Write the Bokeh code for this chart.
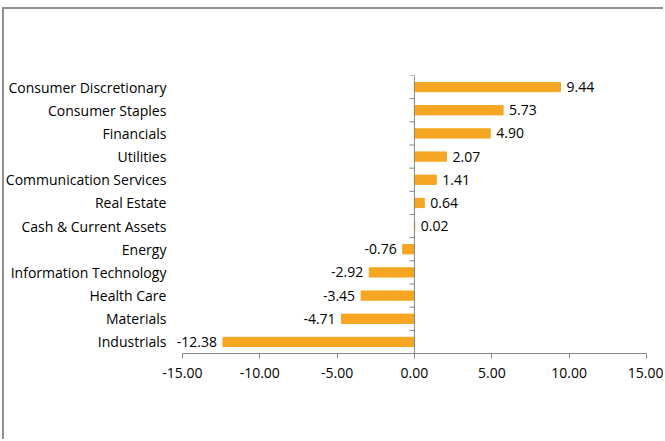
from bokeh.plotting import figure
from bokeh.models import ColumnDataSource, FixedTicker, LabelSet, Range1d
from bokeh.core.properties import value
from bokeh.embed import file_html
from bokeh.resources import INLINE
from math import pi

sectors = ["Consumer Discretionary", "Consumer Staples", "Financials", "Utilities",
           "Communication Services", "Real Estate", "Cash & Current Assets", "Energy",
           "Information Technology", "Health Care", "Materials", "Industrials"]
values = [9.44, 5.73, 4.90, 2.07, 1.41, 0.64, 0.02, -0.76, -2.92, -3.45, -4.71, -12.38]
x_ticks = [-15, -10, -5, 0, 5, 10, 15]

n = len(sectors)
ypos = [n - 1 - i for i in range(n)]
labels = ["%.2f" % v for v in values]
pos_idx = [i for i, v in enumerate(values) if v >= 0]
neg_idx = [i for i, v in enumerate(values) if v < 0]

src = ColumnDataSource(dict(y=ypos, v=values, lab=labels))
src_pos = ColumnDataSource(dict(y=[ypos[i] for i in pos_idx], v=[values[i] for i in pos_idx],
                                lab=[labels[i] for i in pos_idx]))
src_neg = ColumnDataSource(dict(y=[ypos[i] for i in neg_idx], v=[values[i] for i in neg_idx],
                                lab=[labels[i] for i in neg_idx]))
src_cat = ColumnDataSource(dict(y=ypos, name=sectors, x=[x_ticks[0]] * n))

FONT = "Open Sans"
TXT = "#000000"
AX = "#868686"
FS = "14px"

# canvas starts at x=4, y=9 (after margin + border); the frame extends left
# over the category-label area so that labels are not clipped
p = figure(width=661, height=432, output_backend="svg", toolbar_location=None,
           x_range=Range1d(-26.5, 15), y_range=Range1d(-0.5, n - 0.5),
           min_border_left=0, min_border_right=19, min_border_top=66, min_border_bottom=88)
p.outline_line_color = None
p.xgrid.visible = False
p.ygrid.visible = False
p.yaxis.visible = False
p.styles = {"margin-left": "2px", "margin-top": "7px",
            "border-left": "2px solid #8f8f8f", "border-top": "2px solid #8f8f8f"}

p.hbar(y="y", left=0, right="v", height=0.4, source=src, color="#F6A623")

# center axis line at 0 with ticks at category boundaries
p.segment(x0=0, y0=-0.5, x1=0, y1=n - 0.5, line_color=AX, line_width=1)
bounds = [b - 0.5 for b in range(n + 1)]
p.ray(x=[0] * len(bounds), y=bounds, length=5, length_units="screen", angle=pi,
      line_color=AX, line_width=1)

p.add_layout(LabelSet(x="v", y="y", text="lab", source=src_pos, x_offset=6,
                      text_align="left", text_baseline="middle", text_font=value(FONT),
                      text_font_size=value(FS), text_color=TXT))
p.add_layout(LabelSet(x="v", y="y", text="lab", source=src_neg, x_offset=-6,
                      text_align="right", text_baseline="middle", text_font=value(FONT),
                      text_font_size=value(FS), text_color=TXT))
# category labels
p.add_layout(LabelSet(x="x", y="y", text="name", source=src_cat, x_offset=-16,
                      text_align="right", text_baseline="middle", text_font=value(FONT),
                      text_font_size=value(FS), text_color=TXT))

# x axis
xa = p.xaxis[0]
xa.bounds = (x_ticks[0], x_ticks[-1])
xa.ticker = FixedTicker(ticks=x_ticks)
xa.major_label_overrides = {t: "%.2f" % t for t in x_ticks}
xa.axis_line_color = AX
xa.major_tick_line_color = AX
xa.major_tick_in = 0
xa.major_tick_out = 5
xa.minor_tick_line_color = None
xa.major_label_text_font = FONT
xa.major_label_text_font_size = FS
xa.major_label_text_color = TXT
xa.major_label_standoff = 9

open("out.html", "w").write(file_html(p, INLINE))
